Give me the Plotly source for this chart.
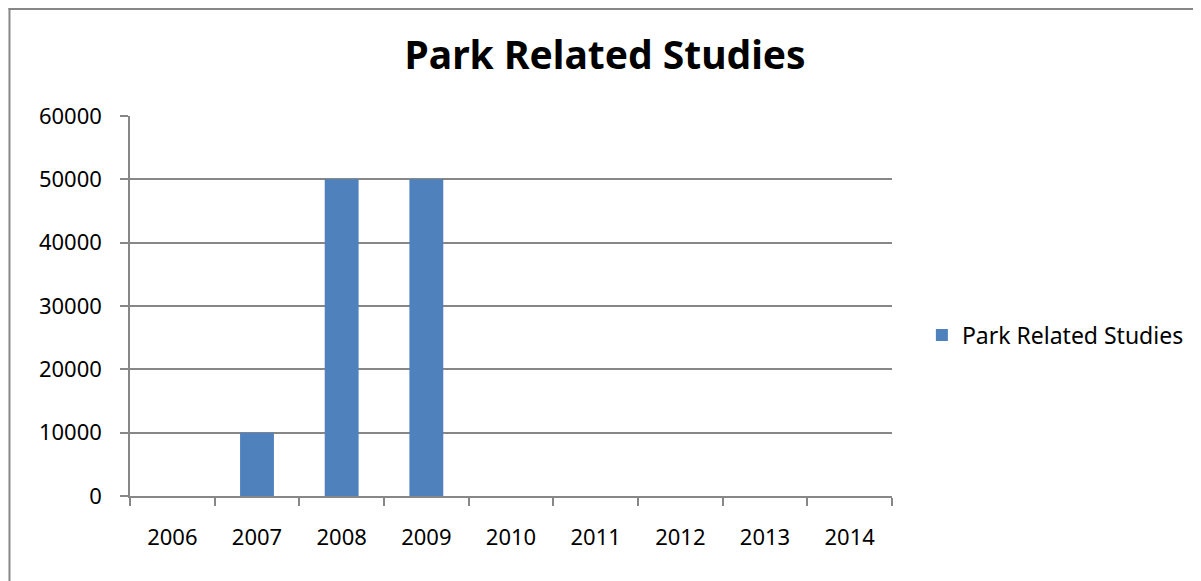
import plotly.graph_objects as go

years = ["2006", "2007", "2008", "2009", "2010", "2011", "2012", "2013", "2014"]
studies = [0, 10000, 50000, 50000, 0, 0, 0, 0, 0]
series_name = "Park Related Studies"
title_text = "Park Related Studies"

OFF = 8  # page body margin
W, H = 1201 - OFF, 581 - OFF
# plot area in screenshot pixels
SL, SR, ST, SB = 130, 895, 116, 496
L, R, T, B = SL - OFF, SR - OFF, ST - OFF, SB - OFF
pw, ph = R - L, B - T

def px(x):  # screenshot x -> paper
    return (x - OFF - L) / pw

def py(y):  # screenshot y -> paper
    return (B - (y - OFF)) / ph

FONT = "Noto Sans"
GRID = "#878787"

fig = go.Figure()
fig.add_trace(go.Bar(
    x=years, y=studies, name=series_name,
    marker=dict(color="#4F81BD", line=dict(width=0)),
    showlegend=True,
))

fig.update_layout(
    width=W, height=H,
    margin=dict(l=L, r=W - R, t=T, b=H - B, pad=0),
    paper_bgcolor="white", plot_bgcolor="white",
    bargap=0.6,
    font=dict(family=FONT, size=22, color="#000000"),
    title=dict(text="<b>" + title_text + "</b>", x=px(607), xref="paper", xanchor="center",
               y=1 - (55 - OFF) / H, yref="container", yanchor="middle",
               font=dict(family=FONT, size=39, color="#000000")),
    showlegend=True,
    legend=dict(x=px(925), y=py(335), xanchor="left", yanchor="middle",
                font=dict(family=FONT, size=23, color="#000000"),
                bgcolor="rgba(0,0,0,0)", itemwidth=30, tracegroupgap=0),
    xaxis=dict(type="category", showline=True, linecolor=GRID, linewidth=1.5,
               ticks="outside", tickson="boundaries", ticklen=8, tickcolor=GRID, tickwidth=1.5,
               showgrid=False, ticklabelstandoff=21, tickfont=dict(size=22)),
    yaxis=dict(range=[0, 60000], dtick=10000, tickformat="d", showline=True, linecolor=GRID,
               linewidth=1.5, ticks="outside", ticklen=8, tickcolor=GRID, tickwidth=1.5,
               showgrid=True, gridcolor=GRID, gridwidth=1.5, zeroline=False,
               ticklabelstandoff=14, tickfont=dict(size=22)),
    shapes=[
        dict(type="line", xref="paper", yref="paper", x0=px(8), x1=px(1230), y0=py(9), y1=py(9),
             line=dict(color=GRID, width=2)),
        dict(type="line", xref="paper", yref="paper", x0=px(9), x1=px(9), y0=py(8), y1=py(600),
             line=dict(color=GRID, width=2)),
    ],
)

fig.write_html("out.html")
